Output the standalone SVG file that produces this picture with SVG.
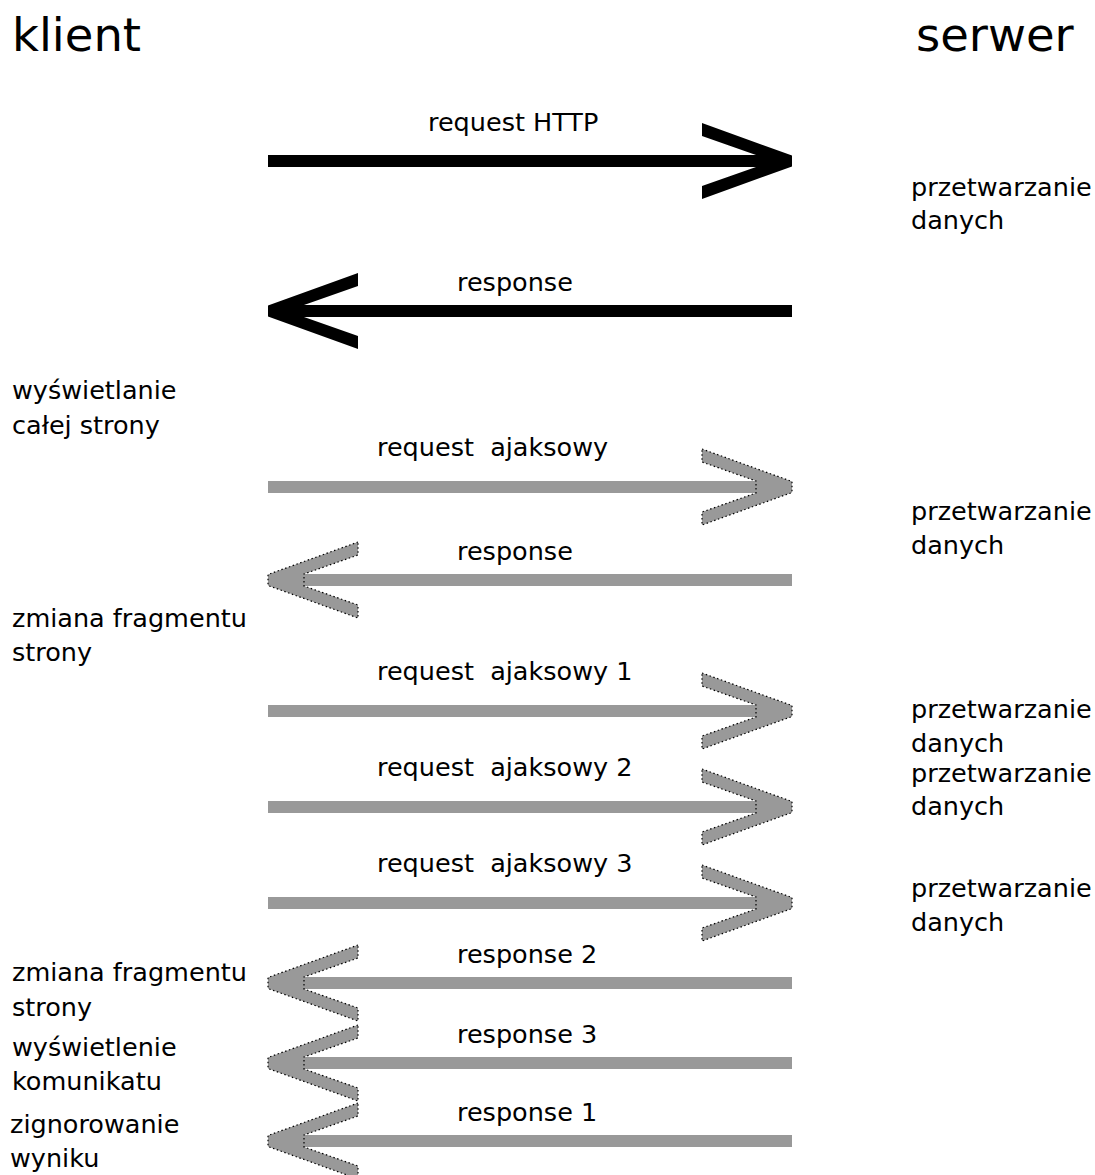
<svg xmlns="http://www.w3.org/2000/svg" width="1095" height="1175" viewBox="0 0 1095 1175">
<style>
text{font-family:"DejaVu Sans","Bitstream Vera Sans","Liberation Sans",sans-serif;fill:#000;white-space:pre}
.t{font-size:25.5px}
.h{font-size:46.5px}
.bl{stroke:#000;stroke-width:12;fill:none}
.gl{stroke:#999;stroke-width:12;fill:none}
.bh{fill:#000}
.gh{fill:#999;stroke:#000;stroke-width:1.2;stroke-dasharray:1.5 2.5}
</style>
<defs>
<polygon id="head" points="-90,-38 0,-5.5 0,5.5 -90,38 -90,25 -36,6 -36,-6 -90,-25"/>
</defs>
<rect width="1095" height="1175" fill="#fff"/>
<g id="klient"><text class="h" x="12" y="51">klient</text></g>
<g id="serwer"><text class="h" x="916" y="51">serwer</text></g>

<g id="client-labels">
<g id="c1"><text class="t" x="12" y="399">wyświetlanie</text><text class="t" x="12" y="434">całej strony</text></g>
<g id="c2"><text class="t" x="12" y="627">zmiana fragmentu</text><text class="t" x="12" y="661">strony</text></g>
<g id="c3"><text class="t" x="12" y="981">zmiana fragmentu</text><text class="t" x="12" y="1016">strony</text></g>
<g id="c4"><text class="t" x="12" y="1056">wyświetlenie</text><text class="t" x="12" y="1090">komunikatu</text></g>
<g id="c5"><text class="t" x="10" y="1133">zignorowanie</text><text class="t" x="10" y="1167">wyniku</text></g>
</g>

<g id="server-labels">
<g id="s1"><text class="t" x="911" y="196">przetwarzanie</text><text class="t" x="911" y="229">danych</text></g>
<g id="s2"><text class="t" x="911" y="520">przetwarzanie</text><text class="t" x="911" y="554">danych</text></g>
<g id="s3"><text class="t" x="911" y="718">przetwarzanie</text><text class="t" x="911" y="752">danych</text></g>
<g id="s4"><text class="t" x="911" y="782">przetwarzanie</text><text class="t" x="911" y="815">danych</text></g>
<g id="s5"><text class="t" x="911" y="897">przetwarzanie</text><text class="t" x="911" y="931">danych</text></g>
</g>

<g id="connectors">
<g id="a1"><line class="bl" x1="268" y1="161" x2="786" y2="161"/><use href="#head" class="bh" transform="translate(792,161)"/><text class="t" x="428" y="131">request HTTP</text></g>
<g id="a2"><line class="bl" x1="274" y1="311" x2="792" y2="311"/><use href="#head" class="bh" transform="translate(268,311) scale(-1,1)"/><text class="t" x="457" y="291">response</text></g>
<g id="a3"><line class="gl" x1="268" y1="487" x2="760" y2="487"/><use href="#head" class="gh" transform="translate(792,487)"/><text class="t" x="377" y="456">request  ajaksowy</text></g>
<g id="a4"><line class="gl" x1="300" y1="580" x2="792" y2="580"/><use href="#head" class="gh" transform="translate(268,580) scale(-1,1)"/><text class="t" x="457" y="560">response</text></g>
<g id="a5"><line class="gl" x1="268" y1="711" x2="760" y2="711"/><use href="#head" class="gh" transform="translate(792,711)"/><text class="t" x="377" y="680">request  ajaksowy 1</text></g>
<g id="a6"><line class="gl" x1="268" y1="807" x2="760" y2="807"/><use href="#head" class="gh" transform="translate(792,807)"/><text class="t" x="377" y="776">request  ajaksowy 2</text></g>
<g id="a7"><line class="gl" x1="268" y1="903" x2="760" y2="903"/><use href="#head" class="gh" transform="translate(792,903)"/><text class="t" x="377" y="872">request  ajaksowy 3</text></g>
<g id="a8"><line class="gl" x1="300" y1="983" x2="792" y2="983"/><use href="#head" class="gh" transform="translate(268,983) scale(-1,1)"/><text class="t" x="457" y="963">response 2</text></g>
<g id="a9"><line class="gl" x1="300" y1="1063" x2="792" y2="1063"/><use href="#head" class="gh" transform="translate(268,1063) scale(-1,1)"/><text class="t" x="457" y="1043">response 3</text></g>
<g id="a10"><line class="gl" x1="300" y1="1141" x2="792" y2="1141"/><use href="#head" class="gh" transform="translate(268,1141) scale(-1,1)"/><text class="t" x="457" y="1121">response 1</text></g>
</g>
</svg>
